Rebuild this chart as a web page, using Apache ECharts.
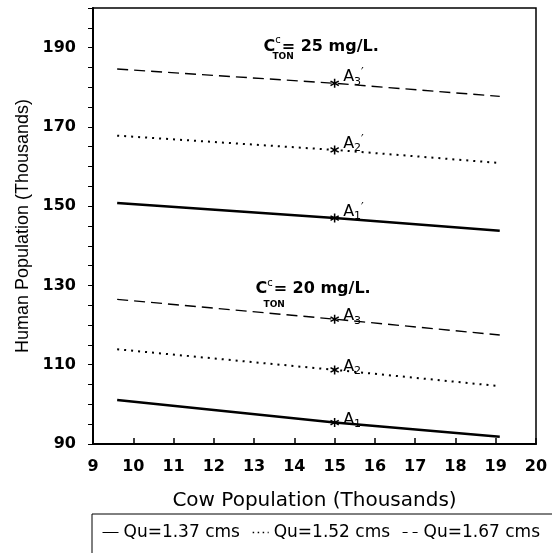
<!DOCTYPE html>
<html>
<head>
<meta charset="utf-8">
<script src="https://cdn.jsdelivr.net/npm/echarts@6/dist/echarts.min.js"></script>
<style>html,body{margin:0;padding:0;background:#fff}#c{width:552px;height:553px}</style>
</head>
<body>
<div id="c"></div>
<script>
// ---- data ----
const cowX = [9.6, 15, 19.1];             // Cow population (thousands): line start, marked point, line end
const A1_20 = [101.1, 95.4, 91.8];         // Qu=1.37 cms, C=20 mg/L
const A2_20 = [113.9, 108.7, 104.6];       // Qu=1.52 cms, C=20 mg/L
const A3_20 = [126.5, 121.5, 117.5];       // Qu=1.67 cms, C=20 mg/L
const A1_25 = [150.8, 147.0, 143.8];       // Qu=1.37 cms, C=25 mg/L
const A2_25 = [167.8, 164.2, 160.9];       // Qu=1.52 cms, C=25 mg/L
const A3_25 = [184.6, 181.0, 177.7];       // Qu=1.67 cms, C=25 mg/L
const markX = 15;
const seriesNames = ['Qu=1.37 cms', 'Qu=1.52 cms', 'Qu=1.67 cms'];
const xTicks = [9, 10, 11, 12, 13, 14, 15, 16, 17, 18, 19, 20];
const yTickLabels = [90, 110, 130, 150, 170, 190];
const pointLabels20 = ['1', '2', '3'];
const pointLabels25 = ['1', '2', '3'];
const concLabels = [
  {x: 13.22, y: 190.2, val: '25', tonX: 13.72, tonY: 187.6},
  {x: 13.02, y: 129.1, val: '20', tonX: 13.5, tonY: 125.1}
];

const F = 'DejaVu Sans';
const styles = [
  {type: 'solid', width: 2.5},
  {type: [2, 5], width: 2},
  {type: [11, 6], width: 1.4}
];
const legendLine = [
  {type: 'solid', width: 1},
  {type: [1.5, 3.5], width: 1.5},
  {type: [5, 5], width: 1}
];
const star = 'path://M4.2,0H5.8V3.6L8.9,1.8L9.7,3.2L6.6,5L9.7,6.8L8.9,8.2L5.8,6.4V10H4.2V6.4L1.1,8.2L0.3,6.8L3.4,5L0.3,3.2L1.1,1.8L4.2,3.6Z';

function lineSeries(name, arr, st) {
  return {
    name: name, type: 'line', symbol: 'none', silent: true,
    lineStyle: {color: '#000', width: st.width, type: st.type},
    itemStyle: {color: '#000'},
    data: cowX.map((x, i) => [x, arr[i]])
  };
}
function starSeries(arr, sub, prime, dy) {
  return {
    type: 'scatter', symbol: star, symbolSize: 9, silent: true,
    itemStyle: {color: '#000', opacity: 1},
    data: [[markX, arr[1]]],
    label: {
      show: true, position: 'right', distance: 4, offset: [0, dy], color: '#000',
      formatter: '{a|A}{s|' + sub + '}' + (prime ? '{p|\u2032}' : ''),
      rich: {
        a: {fontFamily: F, fontSize: 16, color: '#000'},
        s: {fontFamily: F, fontSize: 11, color: '#000', padding: [9, 0, 0, 0]},
        p: {fontFamily: F, fontSize: 12, color: '#000', padding: [0, 0, 8, 0]}
      }
    }
  };
}

const series = [
  lineSeries(seriesNames[0], A1_20, styles[0]),
  lineSeries(seriesNames[1], A2_20, styles[1]),
  lineSeries(seriesNames[2], A3_20, styles[2]),
  lineSeries(seriesNames[0], A1_25, styles[0]),
  lineSeries(seriesNames[1], A2_25, styles[1]),
  lineSeries(seriesNames[2], A3_25, styles[2]),
  starSeries(A1_20, pointLabels20[0], false, -3),
  starSeries(A2_20, pointLabels20[1], false, -3),
  starSeries(A3_20, pointLabels20[2], false, -3),
  starSeries(A1_25, pointLabels25[0], true, -6),
  starSeries(A2_25, pointLabels25[1], true, -6),
  starSeries(A3_25, pointLabels25[2], true, -6),
  {
    type: 'scatter', symbol: 'circle', symbolSize: 1, silent: true,
    itemStyle: {color: 'rgba(0,0,0,0)', opacity: 1},
    data: concLabels.map(c => ({value: [c.x, c.y], name: c.val})),
    label: {
      show: true, position: 'right', distance: 0, color: '#000',
      formatter: p => '{c|C}{sup|c}{t|= ' + p.name + ' mg/L.}',
      rich: {
        c: {fontFamily: F, fontSize: 16, fontWeight: 'bold', color: '#000'},
        sup: {fontFamily: F, fontSize: 10, color: '#000', padding: [0, 1, 12, 0]},
        t: {fontFamily: F, fontSize: 16, fontWeight: 'bold', color: '#000'}
      }
    }
  },
  {
    type: 'scatter', symbol: 'circle', symbolSize: 1, silent: true,
    itemStyle: {color: 'rgba(0,0,0,0)', opacity: 1},
    data: concLabels.map(c => [c.tonX, c.tonY]),
    label: {show: true, position: 'inside', formatter: 'TON',
      fontFamily: F, fontSize: 9, fontWeight: 'bold', color: '#000'}
  }
];

const chart = echarts.init(document.getElementById('c'), null, {renderer: 'canvas'});
chart.setOption({
  backgroundColor: '#fff',
  animation: false,
  grid: {left: 93, right: 16, top: 8, bottom: 109, show: true, borderColor: '#000', borderWidth: 1.5, backgroundColor: 'transparent'},
  legend: {
    data: seriesNames.map((n, i) => ({name: n, lineStyle: {color: '#000', width: legendLine[i].width, type: legendLine[i].type}})),
    left: 92, top: 514, width: 520, orient: 'horizontal',
    itemWidth: 16, itemHeight: 14, itemGap: 12,
    padding: [10, 30, 30, 10],
    borderColor: '#000', borderWidth: 1, borderRadius: 0,
    selectedMode: false,
    itemStyle: {opacity: 0},
    textStyle: {fontFamily: F, fontSize: 17, color: '#000'}
  },
  xAxis: {
    type: 'value', min: xTicks[0], max: xTicks[xTicks.length - 1], interval: 1,
    name: 'Cow Population (Thousands)', nameLocation: 'middle', nameGap: 47,
    nameTextStyle: {fontFamily: F, fontSize: 20, color: '#000'},
    axisLine: {lineStyle: {color: '#000', width: 2}},
    axisTick: {inside: true, length: 6, lineStyle: {color: '#000', width: 1.5}},
    axisLabel: {fontFamily: F, fontSize: 16, fontWeight: 'bold', color: '#000', margin: 15},
    splitLine: {show: false}
  },
  yAxis: {
    type: 'value', min: 90, max: 200, interval: 5,
    name: 'Human Population (Thousands)', nameLocation: 'middle', nameGap: 60,
    nameTextStyle: {fontFamily: 'Liberation Sans', fontSize: 18, color: '#000'},
    axisLine: {lineStyle: {color: '#000', width: 2}},
    axisTick: {inside: false, length: 5, lineStyle: {color: '#000', width: 1}},
    axisLabel: {
      fontFamily: F, fontSize: 16, fontWeight: 'bold', color: '#000', margin: 17,
      formatter: v => (yTickLabels.indexOf(v) >= 0 ? String(v) : '')
    },
    splitLine: {show: false}
  },
  series: series
});
</script>
</body>
</html>
